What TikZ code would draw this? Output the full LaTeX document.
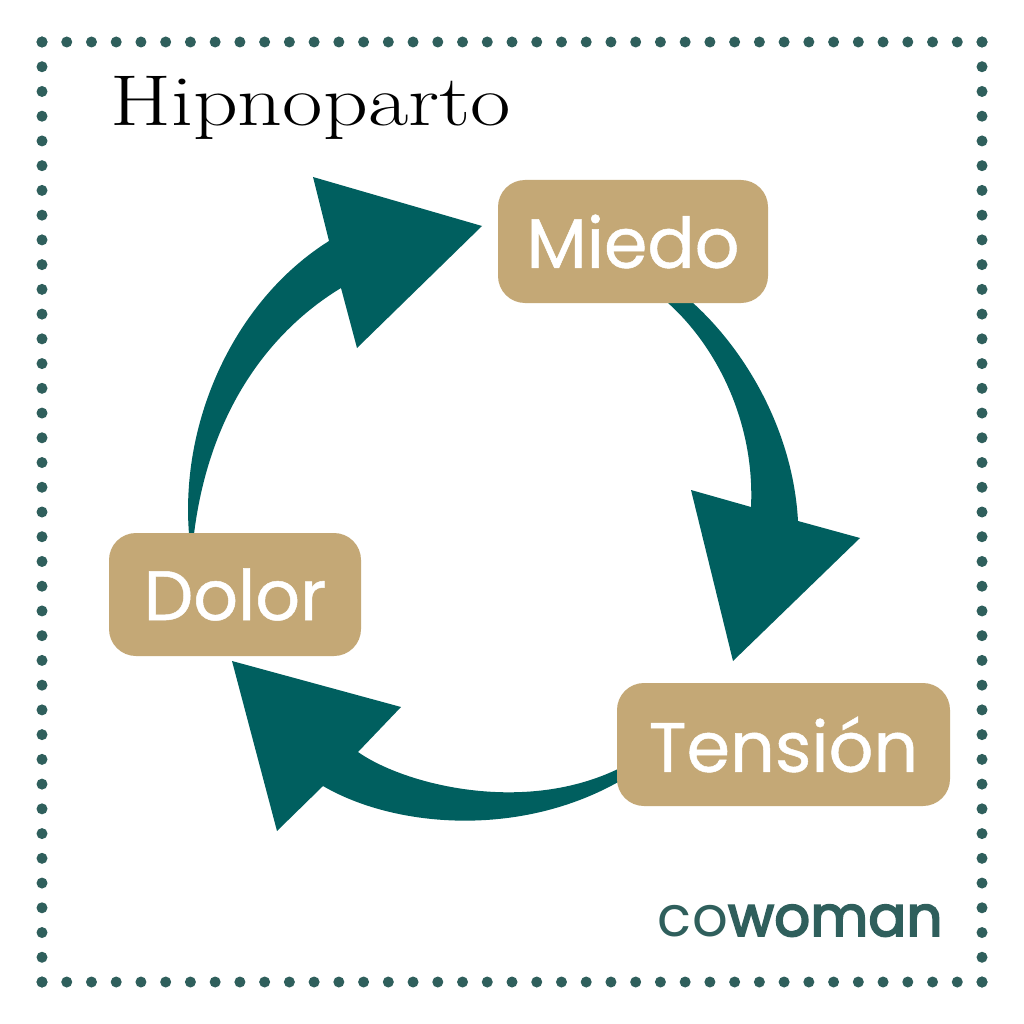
\documentclass[tikz,border=0pt]{standalone}
\usepackage{fontspec}
\newfontfamily\boxfont[FakeBold=0.7]{Poppins}
\newfontfamily\titlefont[Extension=.otf,FakeStretch=1.22]{lmroman17-regular}
\newfontfamily\logofont[LetterSpace=2]{Poppins}
\newfontfamily\logoboldfont[LetterSpace=0.5,FakeBold=3.5]{Poppins}
\definecolor{teal}{HTML}{005F5F}
\definecolor{sand}{HTML}{C4A876}
\definecolor{dotc}{HTML}{2F5F5C}
\definecolor{logoc}{HTML}{2F5F5C}
\tikzset{
  box/.style={fill=sand,rounded corners=27pt,minimum height=123pt,text=white,inner sep=0pt,font=\boxfont\fontsize{70}{84}\selectfont},
  flow/.style={fill=teal,draw=none},
  dot/.style={circle,fill=dotc,minimum size=11pt,inner sep=0pt}
}
\begin{document}
\begin{tikzpicture}[x=1pt,y=-1pt]
\useasboundingbox (0,0) rectangle (1024,1024);
\fill[white] (0,0) rectangle (1024,1024);
\foreach \i in {0,...,38}{
  \pgfmathsetmacro{\p}{42+\i*24.7368}
  \node[dot] at (\p,42) {};
  \node[dot] at (\p,982) {};
  \node[dot] at (42,\p) {};
  \node[dot] at (982,\p) {};
}
% arrows
\fill[flow] (189,534) .. controls (180,420) and (235,300) .. (329,241) -- (313,177) -- (482,226) -- (357,348) -- (341,288) .. controls (275,328) and (210,405) .. (194,534) -- cycle;
\fill[flow] (693,303) .. controls (745,350) and (793,430) .. (798,521) -- (860,538) -- (733,661) -- (691,490) -- (751,507) .. controls (755,420) and (715,345) .. (668,303) -- cycle;
\fill[flow] (620,768) .. controls (525,815) and (405,785) .. (358,752) -- (401,707) -- (232,661) -- (277,831) -- (323,786) .. controls (395,828) and (520,838) .. (620,781) -- cycle;
% boxes
\node[box,minimum width=270pt] (miedo) at (633,241.5) {\raisebox{-1.5pt}{Miedo}};
\node[box,minimum width=252pt] (dolor) at (235,594.5) {\raisebox{-1.5pt}{Dolor}};
\node[box,minimum width=333pt] (tension) at (783.5,744.5) {Tensión};
\node[anchor=base west,inner sep=0pt,font=\titlefont\fontsize{72}{80}\selectfont] (title) at (110,126) {Hipnoparto};
\node[anchor=base west,inner sep=0pt,text=logoc,font=\logofont\fontsize{56}{60}\selectfont] (logo) at (657,936) {co{\logoboldfont woman}};
\end{tikzpicture}
\end{document}
